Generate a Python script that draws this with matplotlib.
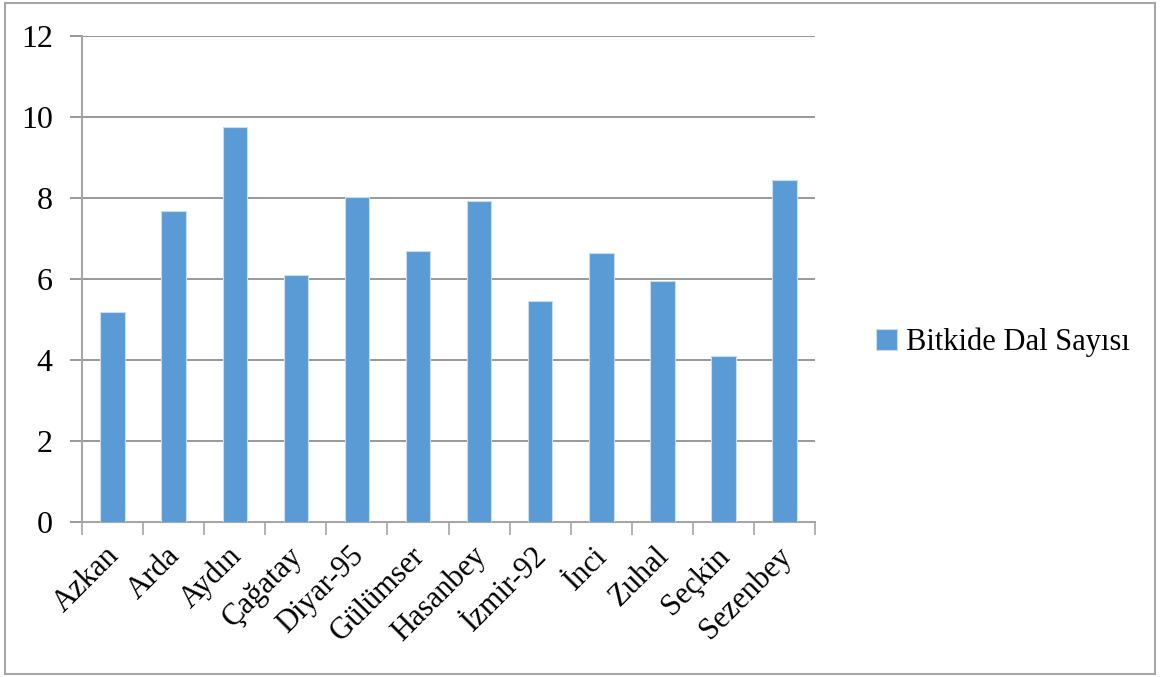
import matplotlib.pyplot as plt
import matplotlib.transforms as mtransforms
from matplotlib.patches import Rectangle

# Bitkide dal sayısı per variety
cesitler = ['Azkan', 'Arda', 'Aydın', 'Çağatay', 'Diyar-95', 'Gülümser',
            'Hasanbey', 'İzmir-92', 'İnci', 'Zuhal', 'Seçkin', 'Sezenbey']
dal_sayisi = [5.19, 7.69, 9.76, 6.09, 8.02, 6.69,
              7.93, 5.46, 6.63, 5.95, 4.09, 8.44]
y_ticks = [0, 2, 4, 6, 8, 10, 12]

plt.rcParams['font.family'] = ['Liberation Serif', 'DejaVu Serif']

fig = plt.figure(figsize=(11.6, 6.77), dpi=100)
ax = fig.add_axes([0.0707, 0.229, 0.632, 0.7178])

x = range(len(cesitler))
ax.bar(x, dal_sayisi, width=0.4, color='#5b9bd5', edgecolor='#c9dcf0',
       linewidth=0.8, label='Bitkide Dal Sayısı', zorder=3)

ax.set_xlim(-0.5, len(cesitler) - 0.5)
ax.set_ylim(0, 12)
ax.set_yticks(y_ticks)
ax.yaxis.grid(True, color='#878787', linewidth=1.2, zorder=0)
ax.tick_params(axis='y', length=9, width=1.2, color='#878787',
               labelsize=23, pad=12)

# category ticks sit between bars
ax.set_xticks([i - 0.5 for i in range(len(cesitler) + 1)], minor=False)
ax.set_xticklabels([])
ax.set_xticks(list(x), minor=True)
ax.set_xticklabels(cesitler, minor=True, rotation=45, ha='right',
                   rotation_mode='anchor', fontsize=22)
ax.tick_params(axis='x', which='major', length=9, width=1.2, color='#a6a6a6')
ax.tick_params(axis='x', which='minor', length=0, pad=14)

# nudge rotated labels so they end under the bar centre
shift = mtransforms.ScaledTranslation(-8 / 100, 0, fig.dpi_scale_trans)
for lbl in ax.get_xticklabels(minor=True):
    lbl.set_transform(lbl.get_transform() + shift)

for side in ['top', 'right']:
    ax.spines[side].set_visible(False)
for side in ['left', 'bottom']:
    ax.spines[side].set_color('#a6a6a6')
    ax.spines[side].set_linewidth(1.5)

ax.legend(loc='center left', bbox_to_anchor=(1.045, 0.37), frameon=False,
          fontsize=22, handlelength=0.7, handleheight=0.7, handletextpad=0.3)

# outer frame
fig.patches.append(Rectangle((0.004, 0.004), 0.992, 0.992,
                             transform=fig.transFigure, fill=False,
                             edgecolor='#a6a6a6', linewidth=1.5))

fig.savefig('out.png', dpi=100)
